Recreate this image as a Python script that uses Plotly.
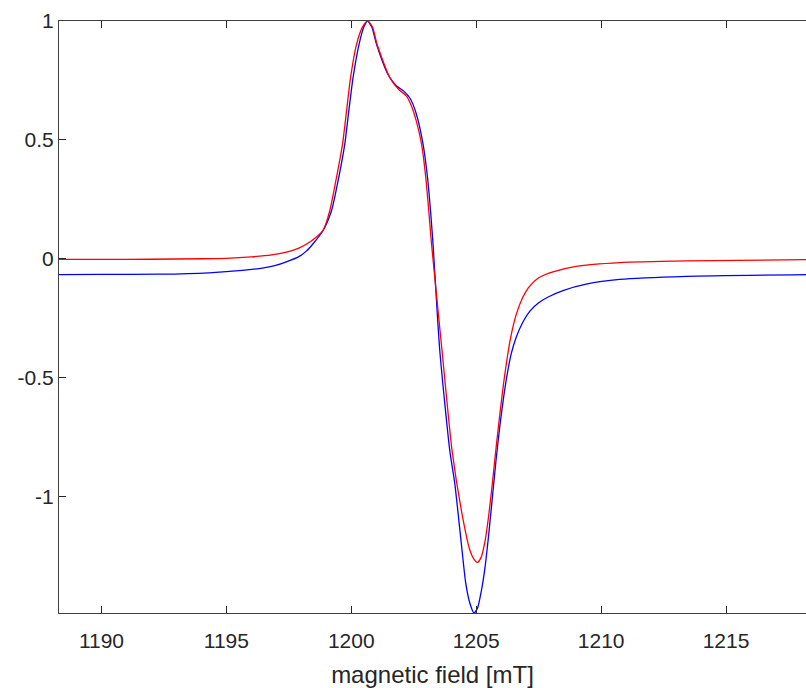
import plotly.graph_objects as go

# magnetic field [mT] and normalized signals
field_red = [1188.3, 1190.0, 1192.0, 1194.0, 1195.0, 1196.0, 1196.8, 1197.4, 1197.9, 1198.4,
             1198.87, 1199.14, 1199.41, 1199.65, 1199.81, 1199.97, 1200.21, 1200.45, 1200.65,
             1200.85, 1201.03, 1201.54, 1201.9, 1202.2, 1202.4, 1202.6, 1202.81, 1202.98, 1203.1,
             1203.21, 1203.63, 1204.03, 1204.45, 1204.74, 1204.9, 1205.05, 1205.2, 1205.35,
             1205.5, 1205.65, 1205.8, 1205.95, 1206.1, 1206.25, 1206.4, 1206.6, 1206.85,
             1207.1, 1207.5, 1208.07, 1209.0, 1210.74, 1213.41, 1218.2]
signal_red = [-0.003, -0.003, -0.002, 0.0, 0.002, 0.008, 0.016, 0.028, 0.045, 0.075,
              0.119, 0.203, 0.343, 0.483, 0.622, 0.762, 0.902, 0.975, 1.0,
              0.975, 0.902, 0.762, 0.712, 0.685, 0.645, 0.58, 0.483, 0.343, 0.203,
              0.063, -0.385, -0.805, -1.084, -1.224, -1.262, -1.277, -1.255, -1.19,
              -1.08, -0.94, -0.79, -0.65, -0.52, -0.41, -0.32, -0.235, -0.165,
              -0.12, -0.08, -0.055, -0.032, -0.016, -0.009, -0.004]

field_blue = [1188.3, 1190.0, 1192.3, 1194.3, 1195.63, 1196.5, 1196.97, 1197.4, 1197.9, 1198.2,
              1198.47, 1198.87, 1199.21, 1199.5, 1199.74, 1199.9, 1200.07, 1200.31, 1200.5,
              1200.65, 1200.82, 1201.01, 1201.47, 1201.8, 1202.1, 1202.35, 1202.6, 1202.87,
              1203.05, 1203.17, 1203.27, 1203.54, 1203.94, 1204.14, 1204.43, 1204.58, 1204.75,
              1204.91, 1205.05, 1205.2, 1205.35, 1205.5, 1205.65, 1205.8, 1205.95, 1206.1,
              1206.25, 1206.4, 1206.6, 1206.85, 1207.15, 1207.5, 1207.9, 1208.5,
              1209.4, 1210.74, 1213.41, 1218.2]
signal_blue = [-0.067, -0.066, -0.065, -0.059, -0.049, -0.038, -0.028, -0.013, 0.009, 0.032,
               0.063, 0.119, 0.203, 0.343, 0.483, 0.622, 0.762, 0.902, 0.975,
               1.0, 0.975, 0.902, 0.775, 0.728, 0.705, 0.675, 0.61, 0.483,
               0.343, 0.203, 0.063, -0.385, -0.805, -0.944, -1.224, -1.364, -1.45,
               -1.49, -1.47, -1.40, -1.30, -1.16, -1.0, -0.84, -0.70, -0.58,
               -0.48, -0.40, -0.33, -0.27, -0.22, -0.185, -0.16, -0.133,
               -0.107, -0.087, -0.074, -0.067]

x_ticks = [1190, 1195, 1200, 1205, 1210, 1215]
y_ticks = [-1, -0.5, 0, 0.5, 1]
y_tick_text = ["-1", "-0.5", "0", "0.5", "1"]

fig = go.Figure()
fig.add_trace(go.Scatter(x=field_blue, y=signal_blue, mode="lines",
                         line=dict(color="#0000ff", width=1.3, shape="spline", smoothing=0.6),
                         showlegend=False))
fig.add_trace(go.Scatter(x=field_red, y=signal_red, mode="lines",
                         line=dict(color="#ff0000", width=1.3, shape="spline", smoothing=0.6),
                         showlegend=False))

font = dict(family="Liberation Sans, Arial, sans-serif", color="#262626")
fig.update_layout(
    width=806, height=688,
    margin=dict(l=59, r=0, t=21, b=75),
    paper_bgcolor="white", plot_bgcolor="white",
    font=font,
    xaxis=dict(range=[1188.3, 1218.2], tickvals=x_ticks, ticks="inside", ticklen=7,
               tickcolor="#262626", showline=True, linecolor="#404040", linewidth=1,
               mirror="ticks", showgrid=False, zeroline=False, ticklabelstandoff=9,
               tickfont=dict(size=21, **font),
               title=dict(text="magnetic field [mT]", font=dict(size=24, **font), standoff=16)),
    yaxis=dict(range=[-1.49, 1.0], tickvals=y_ticks, ticktext=y_tick_text, ticks="inside",
               ticklen=7, tickcolor="#262626", showline=True, linecolor="#404040",
               linewidth=1, mirror=False, showgrid=False, zeroline=False,
               tickfont=dict(size=21, **font)),
)
fig.write_html("out.html")
